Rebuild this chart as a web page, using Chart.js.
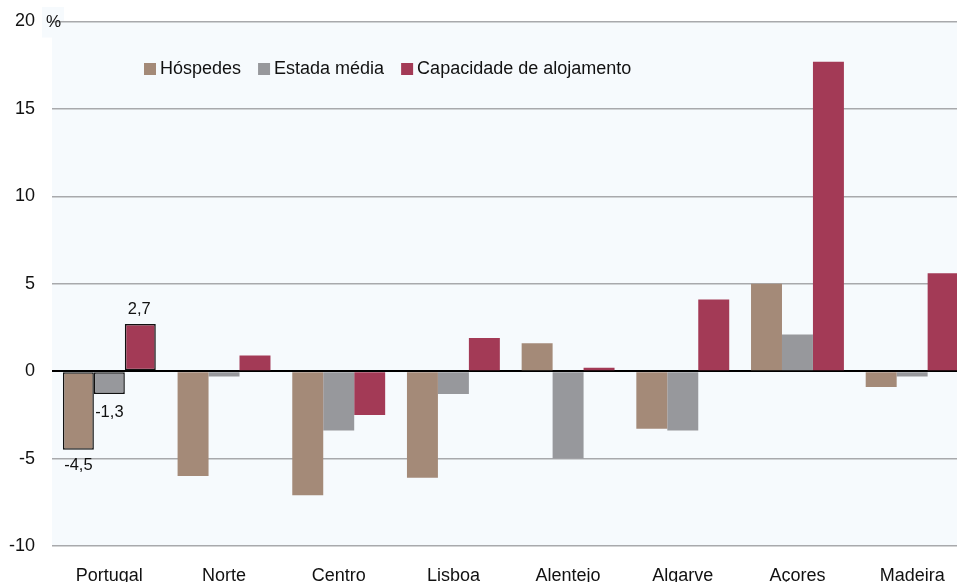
<!DOCTYPE html>
<html>
<head>
<meta charset="utf-8">
<script src="https://cdn.jsdelivr.net/npm/chart.js@4"></script>
<style>
  html, body { margin: 0; padding: 0; background: #fff; }
  #wrap { width: 957px; height: 582px; overflow: hidden; position: relative; }
  #inner { width: 975px; height: 582px; }
</style>
</head>
<body>
<div id="wrap"><div id="inner"><canvas id="chart"></canvas></div></div>
<script>
// ── Data ─────────────────────────────────────────────
const regions    = ['Portugal', 'Norte', 'Centro', 'Lisboa', 'Alentejo', 'Algarve', 'Açores', 'Madeira'];
const hospedes   = [-4.5, -6.0, -7.1, -6.1,  1.6, -3.3,  5.0, -0.9];
const estada     = [-1.3, -0.3, -3.4, -1.3, -5.0, -3.4,  2.1, -0.3];
const capacidade = [ 2.7,  0.9, -2.5,  1.9,  0.2,  4.1, 17.7,  5.6];
const yTicks     = { min: -10, max: 20, step: 5 };

const FONT = '"Liberation Sans", Arial, sans-serif';
const PLOT_BG = '#f6fafd';

const border = ctx => ctx.dataIndex === 0 ? 1.5 : 0;

// ── Plugins ──────────────────────────────────────────
const plotBg = {
  id: 'plotBg',
  beforeDraw(chart) {
    const { ctx, chartArea: a } = chart;
    ctx.save();
    ctx.fillStyle = PLOT_BG;
    ctx.fillRect(a.left, a.top, a.right - a.left, a.bottom - a.top);
    // small box behind the unit label
    ctx.fillRect(42, 7, 22, a.top + 16 - 7);
    ctx.restore();
  },
  afterDraw(chart) {
    const { ctx, chartArea: a } = chart;
    ctx.save();
    ctx.fillStyle = '#111';
    ctx.font = '17px ' + FONT;
    ctx.textBaseline = 'middle';
    ctx.textAlign = 'left';
    ctx.fillText('%', 46, a.top + 1);
    ctx.restore();
  }
};

// legend drawn inside the plot area
const innerLegend = {
  id: 'innerLegend',
  afterDraw(chart) {
    const { ctx } = chart;
    let x = 144;
    const y = 69;
    ctx.save();
    ctx.font = '18px ' + FONT;
    ctx.textBaseline = 'middle';
    ctx.textAlign = 'left';
    chart.data.datasets.forEach(ds => {
      ctx.fillStyle = ds.backgroundColor;
      ctx.fillRect(x, y - 6, 12, 12);
      ctx.fillStyle = '#111';
      ctx.fillText(ds.label, x + 16, y);
      x += 16 + ctx.measureText(ds.label).width + 17;
    });
    ctx.restore();
  }
};

// value labels for the first category (Portugal)
const firstLabels = {
  id: 'firstLabels',
  afterDatasetsDraw(chart) {
    const { ctx } = chart;
    ctx.save();
    ctx.font = '16.5px ' + FONT;
    ctx.fillStyle = '#111';
    ctx.textAlign = 'center';
    chart.data.datasets.forEach((ds, i) => {
      const bar = chart.getDatasetMeta(i).data[0];
      const v = ds.data[0];
      const txt = v.toFixed(1).replace('.', ',');
      if (v >= 0) {
        ctx.textBaseline = 'bottom';
        ctx.fillText(txt, bar.x - 1, bar.y - 6);
      } else {
        ctx.textBaseline = 'top';
        ctx.fillText(txt, bar.x, bar.y + (i === 0 ? 7 : 10));
      }
    });
    ctx.restore();
  }
};

// ── Chart ────────────────────────────────────────────
new Chart(document.getElementById('chart'), {
  type: 'bar',
  data: {
    labels: regions,
    datasets: [
      { label: 'Hóspedes', data: hospedes, backgroundColor: '#a48a78' },
      { label: 'Estada média', data: estada, backgroundColor: '#97989c' },
      { label: 'Capacidade de alojamento', data: capacidade, backgroundColor: '#a33a56' }
    ].map(ds => Object.assign(ds, {
      borderColor: '#111',
      borderWidth: border,
      borderSkipped: false,
      categoryPercentage: 0.81,
      barPercentage: 1
    }))
  },
  options: {
    responsive: true,
    maintainAspectRatio: false,
    animation: false,
    layout: { padding: { top: 21.5, right: 5.5, left: 0, bottom: 0 } },
    plugins: { legend: { display: false }, tooltip: { enabled: false } },
    scales: {
      x: {
        grid: { display: false, drawTicks: false },
        border: { display: false },
        ticks: { color: '#111', font: { family: FONT, size: 18 }, padding: 19, maxRotation: 0 },
        afterFit(scale) { scale.height = 36; }
      },
      y: {
        min: yTicks.min,
        max: yTicks.max,
        grid: {
          drawTicks: false,
          color: ctx => ctx.tick && ctx.tick.value === 0 ? '#000' : '#a8a9ac',
          lineWidth: ctx => ctx.tick && ctx.tick.value === 0 ? 2 : 1.5
        },
        border: { display: false },
        ticks: { stepSize: yTicks.step, color: '#111', font: { family: FONT, size: 18 }, padding: 17 },
        afterFit(scale) {
          scale.width = 52;
          scale.paddingTop = 0;
          scale.paddingBottom = 0;
        }
      }
    }
  },
  plugins: [plotBg, innerLegend, firstLabels]
});
</script>
</body>
</html>
